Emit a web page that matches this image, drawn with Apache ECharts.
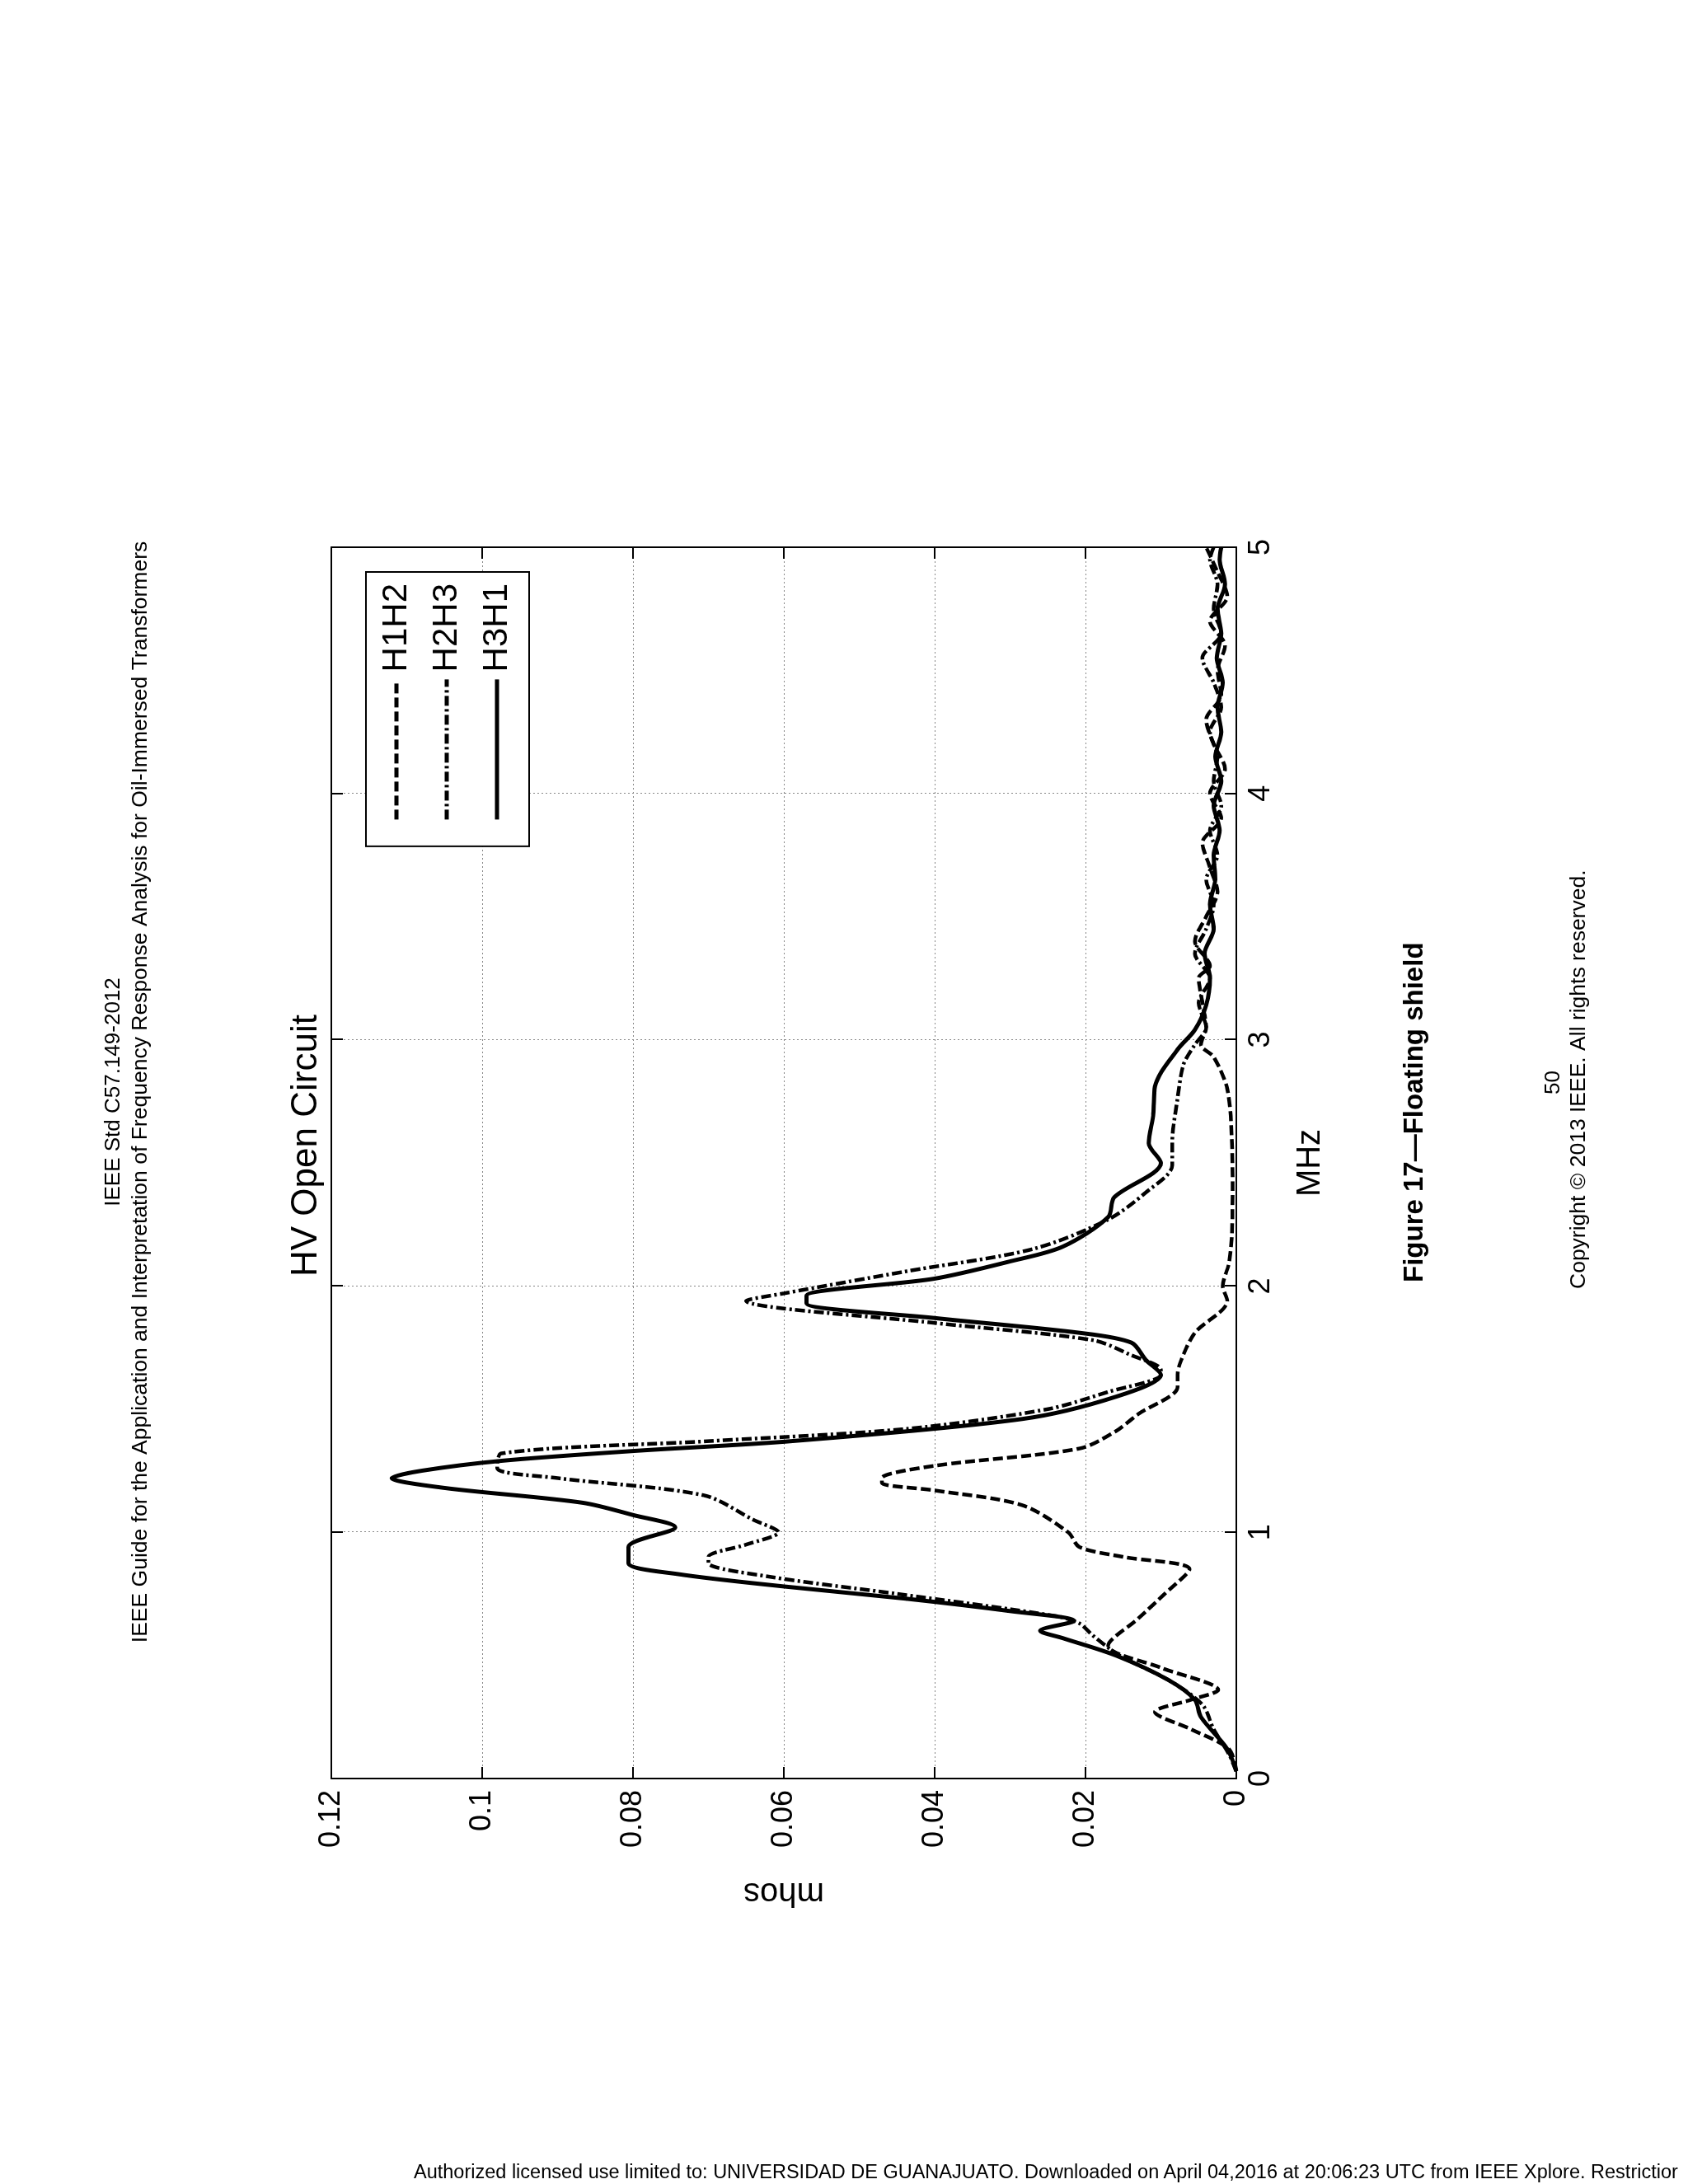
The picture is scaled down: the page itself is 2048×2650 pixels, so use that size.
<!DOCTYPE html>
<html><head><meta charset="utf-8">
<script src="https://cdn.jsdelivr.net/npm/echarts@6/dist/echarts.min.js"></script>
<style>
html,body{margin:0;padding:0;background:#fff;width:2048px;height:2650px;overflow:hidden;position:relative;font-family:Arial,"Liberation Sans",sans-serif}
#rot{position:absolute;left:-301px;top:301px;width:2650px;height:2048px;transform:rotate(-90deg);transform-origin:50% 50%}
#foot{position:absolute;left:502px;top:2622px;font-size:23.5px;white-space:nowrap;color:#000;font-family:"Liberation Sans",Arial,sans-serif}
</style></head><body>
<div id="rot"></div>
<div id="foot">Authorized licensed use limited to: UNIVERSIDAD DE GUANAJUATO. Downloaded on April 04,2016 at 20:06:23 UTC from IEEE Xplore.  Restrictior</div>
<script>
const seriesNames = ['H1H2','H2H3','H3H1'];
const xTicks = [0,1,2,3,4,5];
const yTicks = [0,0.02,0.04,0.06,0.08,0.1,0.12];
const H1H2 = [[0.03,0],[0.12,0.001],[0.2,0.006],[0.27,0.0108],[0.32,0.006],[0.36,0.0024],[0.45,0.01],[0.54,0.017],[0.65,0.013],[0.75,0.0095],[0.85,0.0062],[0.9,0.015],[0.94,0.0208],[1.0,0.0223],[1.11,0.0284],[1.17,0.04],[1.2,0.047],[1.22,0.047],[1.27,0.040],[1.34,0.0208],[1.41,0.016],[1.48,0.013],[1.59,0.0078],[1.64,0.0078],[1.7,0.0073],[1.81,0.0055],[1.94,0.0012],[2.0,0.0018],[2.09,0.001],[2.2,0.0006],[2.4,0.0005],[2.6,0.0006],[2.8,0.0012],[2.93,0.003],[2.98,0.0047],[3.05,0.004],[3.15,0.0045],[3.25,0.005],[3.3,0.0035],[3.4,0.0055],[3.5,0.004],[3.6,0.0025],[3.7,0.0035],[3.8,0.0045],[3.9,0.002],[4.0,0.0035],[4.1,0.0015],[4.2,0.003],[4.3,0.004],[4.4,0.002],[4.5,0.0025],[4.6,0.0015],[4.7,0.0035],[4.8,0.0012],[4.9,0.0025],[5.0,0.004]];
const H2H3 = [[0.03,0],[0.1,0.001],[0.2,0.003],[0.3,0.0045],[0.4,0.009],[0.5,0.0155],[0.58,0.019],[0.63,0.0208],[0.66,0.024],[0.75,0.045],[0.82,0.062],[0.875,0.07],[0.9,0.07],[0.95,0.065],[1.0,0.0607],[1.05,0.064],[1.15,0.0706],[1.22,0.09],[1.26,0.098],[1.32,0.0975],[1.37,0.07],[1.42,0.0437],[1.5,0.025],[1.57,0.017],[1.64,0.010],[1.66,0.010],[1.72,0.014],[1.78,0.019],[1.85,0.04],[1.94,0.065],[1.97,0.06],[2.06,0.0437],[2.15,0.027],[2.27,0.017],[2.38,0.012],[2.49,0.0085],[2.58,0.0085],[2.76,0.0078],[2.9,0.007],[2.98,0.0055],[3.05,0.004],[3.15,0.005],[3.25,0.0035],[3.35,0.0055],[3.45,0.004],[3.55,0.003],[3.65,0.004],[3.75,0.0025],[3.85,0.0035],[3.95,0.002],[4.05,0.003],[4.15,0.0025],[4.25,0.0035],[4.35,0.002],[4.45,0.003],[4.55,0.0045],[4.65,0.002],[4.75,0.003],[4.85,0.0025],[4.95,0.0035],[5.0,0.003]];
const H3H1 = [[0.03,0],[0.12,0.0012],[0.25,0.0047],[0.32,0.0055],[0.4,0.009],[0.5,0.016],[0.57,0.023],[0.6,0.026],[0.64,0.0215],[0.68,0.03],[0.73,0.0437],[0.78,0.06],[0.83,0.074],[0.875,0.0806],[0.94,0.0806],[1.02,0.0744],[1.07,0.08],[1.12,0.0867],[1.18,0.105],[1.22,0.112],[1.25,0.108],[1.29,0.0975],[1.33,0.08],[1.37,0.059],[1.46,0.0284],[1.55,0.016],[1.64,0.010],[1.7,0.012],[1.77,0.0139],[1.81,0.0208],[1.87,0.04],[1.93,0.057],[1.96,0.057],[2.03,0.040],[2.1,0.03],[2.16,0.023],[2.28,0.017],[2.36,0.0162],[2.5,0.010],[2.58,0.0116],[2.7,0.011],[2.81,0.0108],[2.96,0.0078],[3.04,0.0055],[3.14,0.004],[3.25,0.0035],[3.35,0.0042],[3.45,0.003],[3.55,0.0035],[3.65,0.0028],[3.75,0.003],[3.85,0.0022],[3.95,0.003],[4.05,0.002],[4.15,0.0028],[4.25,0.002],[4.35,0.0025],[4.45,0.0018],[4.55,0.0026],[4.65,0.002],[4.75,0.0025],[4.85,0.0015],[4.95,0.0022],[5.0,0.002]];

const chart = echarts.init(document.getElementById('rot'), null, {width:2650, height:2048});
const FF = '"Liberation Sans", Arial, sans-serif';
const dataSets = [H1H2, H2H3, H3H1];
const dashes = [[12,5],[12,4,3,4],'solid'];
const axisCommon = {
  axisLine:{show:true,onZero:false,lineStyle:{color:'#000',width:2}},
  axisTick:{show:true,inside:true,length:14,lineStyle:{color:'#000',width:2}},
};
chart.setOption({
  animation:false,
  backgroundColor:'#fff',
  title:{text:'HV Open Circuit',left:1096,top:345,textStyle:{fontFamily:FF,fontSize:44,fontWeight:'normal',color:'#000'}},
  grid:{left:492,right:664,top:402,bottom:548},
  legend:{
    orient:'vertical',right:694,top:444,data:seriesNames,
    backgroundColor:'#fff',borderColor:'#000',borderWidth:2,borderRadius:0,
    padding:[16,14,18,30],itemWidth:170,itemHeight:20,itemGap:19,
    itemStyle:{opacity:0},
    lineStyle:{width:5},
    textStyle:{fontFamily:FF,fontSize:42,color:'#000',padding:[0,0,0,4]}
  },
  graphic:[
    {type:'text',left:'center',top:125,style:{text:'IEEE Std C57.149-2012',fontFamily:FF,fontSize:26,fill:'#000'}},
    {type:'text',left:'center',top:157,style:{text:'IEEE Guide for the Application and Interpretation of Frequency Response Analysis for Oil-Immersed Transformers',fontFamily:FF,fontSize:26.5,fill:'#000'}},
    {type:'text',left:1094,top:1700,style:{text:'Figure 17\u2014Floating shield',fontFamily:FF,fontSize:33,fontWeight:'bold',fill:'#000'}},
    {type:'text',left:1322,top:1872,style:{text:'50',fontFamily:FF,fontSize:26,fill:'#000'}},
    {type:'text',left:1086,top:1902,style:{text:'Copyright \u00a9 2013 IEEE. All rights reserved.',fontFamily:FF,fontSize:26.5,fill:'#000'}}
  ],
  xAxis:[{
    type:'value',min:xTicks[0],max:xTicks[xTicks.length-1],interval:1,
    name:'MHz',nameLocation:'middle',nameGap:70,nameTextStyle:{fontFamily:FF,fontSize:40,color:'#000'},
    ...axisCommon,
    axisLabel:{fontFamily:FF,fontSize:36,color:'#000',margin:12},
    splitLine:{show:true,lineStyle:{color:'#888',type:[2,3],width:1}}
  },{
    type:'value',position:'top',min:0,max:5,interval:1,...axisCommon,
    axisLabel:{show:false},splitLine:{show:false}
  }],
  yAxis:[{
    type:'value',min:yTicks[0],max:yTicks[yTicks.length-1],interval:0.02,
    name:'mhos',nameLocation:'middle',nameGap:118,nameTextStyle:{fontFamily:FF,fontSize:40,color:'#000'},
    ...axisCommon,
    axisLabel:{fontFamily:FF,fontSize:36,color:'#000',margin:14,formatter:v=>String(+v.toFixed(2))},
    splitLine:{show:true,lineStyle:{color:'#888',type:[2,3],width:1}}
  },{
    type:'value',position:'right',min:0,max:0.12,interval:0.02,...axisCommon,
    axisLabel:{show:false},splitLine:{show:false}
  }],
  series: seriesNames.map((n,i)=>({
    name:n,type:'line',data:dataSets[i],symbol:'none',showSymbol:false,smooth:0.3,
    lineStyle:{color:'#000',width:i===2?5:4.5,type:dashes[i]},
    itemStyle:{color:'#000'}
  }))
});
</script>
</body></html>
